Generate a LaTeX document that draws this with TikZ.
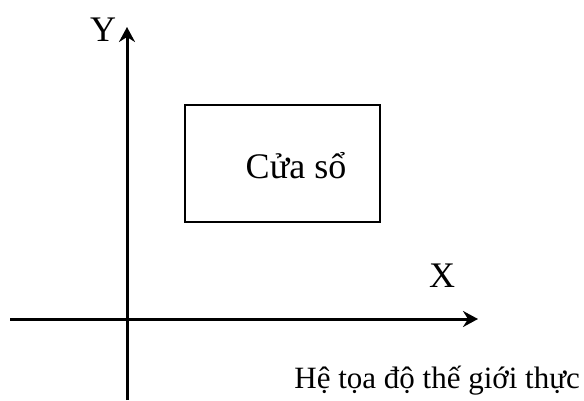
\documentclass[tikz,border=0pt]{standalone}
\usepackage{fontspec}
\setmainfont{Liberation Serif}
\usepackage{tikz}
\usetikzlibrary{positioning, arrows.meta}

\begin{document}
\begin{tikzpicture}[
      x=1pt, y=-1pt,
      axis/.style={-{Stealth[length=15pt, width=16pt, inset=5pt]}, line width=3pt},
      window/.style={draw, line width=2.8pt, minimum width=195pt, minimum height=117pt},
      lbl/.style={font=\fontsize{36}{40}\selectfont, inner sep=0pt}
    ]
      \useasboundingbox (0,0) rectangle (584,400);

      \coordinate (yfoot) at (127,400);
      \coordinate (ytop) at (127,27);
      \coordinate (xfoot) at (10,319);
      \coordinate (xtop) at (478,319);

      \node[window] (win) at (282.5,163.5) {};
      \node[lbl, anchor=base] (wintext) at (296,178) {Cửa sổ};
      \node[lbl] (ylabel) at (103,30) {Y};
      \node[lbl] (xlabel) at (442,276) {X};
      \node[lbl, anchor=base east, font=\fontsize{31}{36}\selectfont] (world) at (580,388) {Hệ tọa độ thế giới thực};

      \draw[axis] (yfoot) -- (ytop);
      \draw[axis] (xfoot) -- (xtop);
    \end{tikzpicture}
\end{document}
